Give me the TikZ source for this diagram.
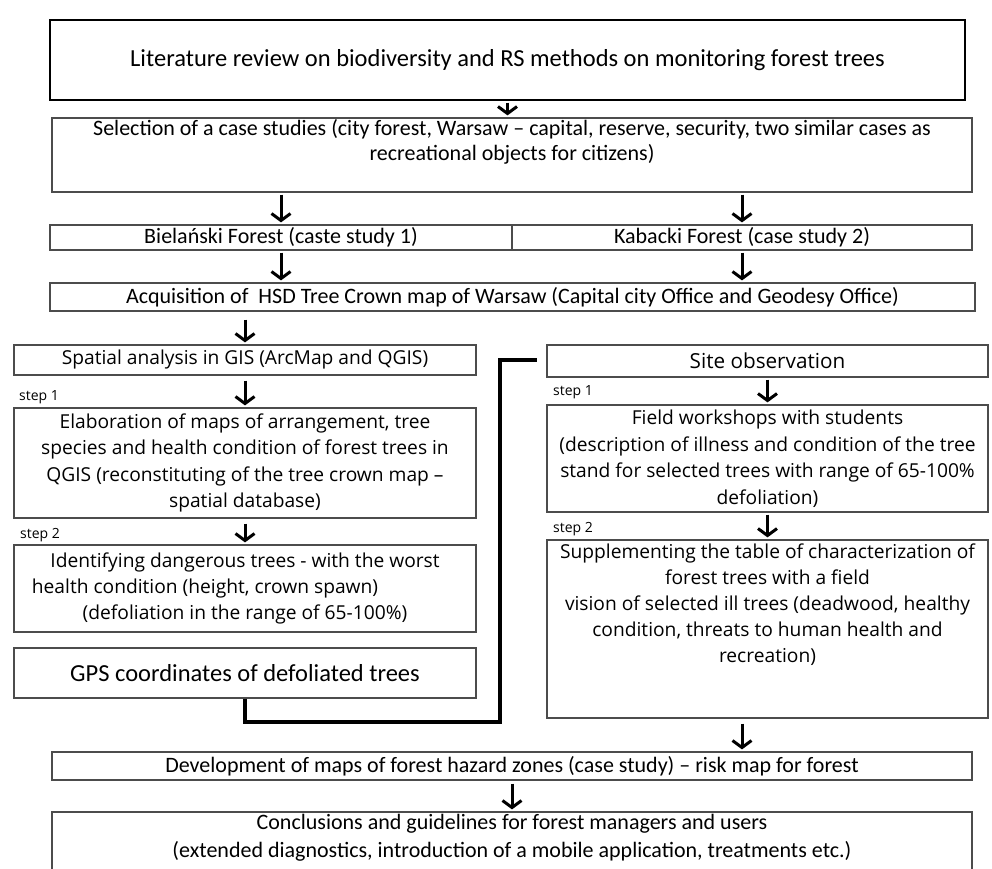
\documentclass[tikz,border=0pt]{standalone}
\usepackage{fontspec}
\setmainfont{Carlito}
\newfontfamily\osans{Open Sans}
\usetikzlibrary{arrows.meta}
\begin{document}
\begin{tikzpicture}[x=1pt,y=-1pt,
  box/.style={draw=black!70, line width=1.2pt, inner sep=0pt, align=center,
    font=\fontsize{22}{25}\selectfont},
  mbox/.style={box, font=\osans\fontsize{19.2}{26.5}\selectfont},
  txt/.style={inner sep=0pt, align=center, font=\fontsize{22}{25}\selectfont},
  mtxt/.style={txt, font=\osans\fontsize{19.2}{26}\selectfont},
  arr/.style={line width=3pt, -{Straight Barb[length=7pt,width=19pt]},
    shorten <=2pt, shorten >=2pt},
  steplbl/.style={font=\osans\fontsize{14}{16}\selectfont, anchor=west, inner sep=0pt},
  link/.style={line width=4pt}
]
\useasboundingbox[fill=white] (0,0) rectangle (992,869);

% top part
\node[box, draw=black, line width=1.5pt, minimum width=915, minimum height=80,
  font=\fontsize{24.5}{28}\selectfont]
  (lit) at (507.5,60) {Literature review on biodiversity and RS methods on monitoring forest trees};
\node[box, minimum width=920, minimum height=74] (sel) at (512,155) {};
\node[txt, anchor=north] at ([yshift=-2]sel.north)
  {Selection of a case studies (city forest, Warsaw -- capital, reserve, security, two similar cases as\\
   recreational objects for citizens)};
\node[box, minimum width=462, minimum height=25] (bie) at (281,237.5) {Bielański Forest (caste study 1)};
\node[box, minimum width=460, minimum height=25] (kab) at (742,237.5) {Kabacki Forest (case study 2)};
\node[box, minimum width=925, minimum height=28] (acq) at (512.5,297)
  {Acquisition of \ HSD Tree Crown map of Warsaw (Capital city Office and Geodesy Office)};

% left column
\node[mbox, minimum width=462, minimum height=30] (sp) at (245,360) {Spatial analysis in GIS (ArcMap and QGIS)};
\node[steplbl] (s1l) at (19,397) {step 1};
\node[mbox, minimum width=462, minimum height=110] (el) at (245,463)
  {Elaboration of maps of arrangement, tree\\ species and health condition of forest trees in\\
   QGIS (reconstituting of the tree crown map –\\ spatial database)};
\node[steplbl] (s2l) at (20,535) {step 2};
\node[mbox, font=\osans\fontsize{19.2}{26}\selectfont, minimum width=462, minimum height=87] (id) at (245,588.5)
  {Identifying dangerous trees - with the worst\\ health condition (height, crown spawn)\hspace*{80pt}\mbox{}\\
   (defoliation in the range of 65-100\%)};
\node[box, font=\fontsize{24.5}{28}\selectfont, minimum width=462, minimum height=50] (gps) at (245,673)
  {GPS coordinates of defoliated trees};

% right column
\node[mbox, font=\osans\fontsize{20.7}{26}\selectfont, minimum width=441, minimum height=32] (site) at (767.5,361) {Site observation};
\node[steplbl] (s1r) at (553,392) {step 1};
\node[mbox, minimum width=441, minimum height=107] (field) at (767.5,458.5)
  {Field workshops with students\\ (description of illness and condition of the tree\\
   stand for selected trees with range of 65-100\%\\ defoliation)};
\node[steplbl] (s2r) at (553,529) {step 2};
\node[box, minimum width=441, minimum height=178] (supp) at (767.5,629) {};
\node[mtxt, anchor=north] at ([yshift=-4]supp.north)
  {Supplementing the table of characterization of\\ forest trees with a field\\
   vision of selected ill trees (deadwood, healthy\\ condition, threats to human health and\\ recreation)};

% bottom
\node[box, minimum width=920, minimum height=28] (dev) at (512,766)
  {Development of maps of forest hazard zones (case study) -- risk map for forest};
\node[box, minimum width=920, minimum height=80] (conc) at (512,852) {};
\node[txt, anchor=north, font=\fontsize{22}{28}\selectfont] at ([yshift=-3]conc.north)
  {Conclusions and guidelines for forest managers and users\\
   (extended diagnostics, introduction of a mobile application, treatments etc.)};

% arrows
\draw[arr] (lit.south) -- (lit.south |- sel.north);
\draw[arr] (sel.south -| bie.north) -- (bie.north);
\draw[arr] (sel.south -| kab.north) -- (kab.north);
\draw[arr] (bie.south) -- (bie.south |- acq.north);
\draw[arr] (kab.south) -- (kab.south |- acq.north);
\draw[arr, shorten <=8pt] (acq.south -| sp.north) -- (sp.north);
\draw[arr, shorten <=5pt] (sp.south) -- (el.north);
\draw[arr, shorten <=5pt] (el.south) -- (id.north);
\draw[arr] (site.south) -- (field.north);
\draw[arr] (field.south) -- (supp.north);
\draw[arr, shorten <=5pt] (supp.south -| kab.south) -- (kab.south |- dev.north);
\draw[arr, shorten <=3pt] (dev.south) -- (conc.north);

% thick connector
\coordinate (cb) at (500,722);
\coordinate (cend) at (537,360);
\draw[link] (gps.south) |- (cb) -- (cb |- cend) -- (cend);
\end{tikzpicture}
\end{document}
